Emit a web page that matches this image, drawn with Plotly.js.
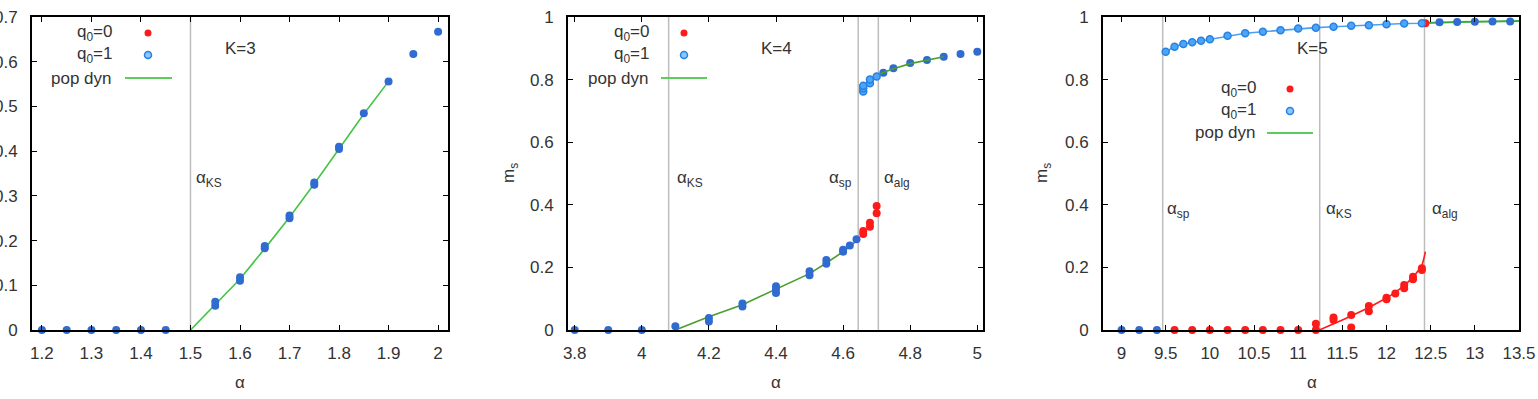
<!DOCTYPE html>
<html>
<head>
<meta charset="utf-8">
<script src="https://cdn.plot.ly/plotly-3.0.1.min.js"></script>
<style>
  html, body { margin: 0; padding: 0; background: #fff; }
  #chart { width: 1538px; height: 399px; }
</style>
</head>
<body>
<div id="chart"></div>
<script>
// ---------- K=3 ----------
const k3_both_alpha = [1.2, 1.25, 1.3, 1.35, 1.4, 1.45, 1.55, 1.55, 1.6, 1.6, 1.65, 1.65, 1.7, 1.7, 1.75, 1.75, 1.8, 1.8, 1.85, 1.9, 1.95, 2.0];
const k3_both_m     = [0, 0, 0, 0, 0, 0, 0.054, 0.063, 0.110, 0.118, 0.183, 0.188, 0.250, 0.256, 0.325, 0.330, 0.405, 0.410, 0.485, 0.556, 0.617, 0.667];
const k3_pop_alpha  = [1.5, 1.55, 1.6, 1.65, 1.7, 1.75, 1.8, 1.85, 1.9];
const k3_pop_m      = [0, 0.058, 0.114, 0.182, 0.252, 0.327, 0.405, 0.483, 0.556];
const k3_marks      = [1.5];

// ---------- K=4 ----------
const k4_both_alpha = [3.8, 3.9, 4.0, 4.1, 4.2, 4.2, 4.3, 4.3, 4.4, 4.4, 4.4, 4.5, 4.5, 4.55, 4.55, 4.6, 4.6, 4.62, 4.64,
                       4.72, 4.75, 4.8, 4.85, 4.9, 4.95, 5.0];
const k4_both_m     = [0, 0, 0, 0.012, 0.027, 0.038, 0.075, 0.085, 0.118, 0.130, 0.140, 0.175, 0.188, 0.212, 0.224, 0.250, 0.256, 0.270, 0.290,
                       0.822, 0.836, 0.853, 0.863, 0.873, 0.882, 0.889];
const k4_q0_alpha   = [4.66, 4.66, 4.68, 4.68, 4.70, 4.70];
const k4_q0_m       = [0.307, 0.316, 0.330, 0.343, 0.373, 0.396];
const k4_q1_alpha   = [4.66, 4.66, 4.66, 4.68, 4.68, 4.70];
const k4_q1_m       = [0.762, 0.772, 0.780, 0.788, 0.800, 0.810];
const k4_pop_lo_alpha = [4.1, 4.2, 4.3, 4.4, 4.5, 4.55, 4.6, 4.64];
const k4_pop_lo_m     = [0, 0.042, 0.081, 0.130, 0.180, 0.214, 0.250, 0.285];
const k4_pop_hi_alpha = [4.708, 4.75, 4.8, 4.85, 4.9];
const k4_pop_hi_m     = [0.818, 0.835, 0.851, 0.862, 0.873];
const k4_marks      = [4.08, 4.645, 4.705];

// ---------- K=5 ----------
const k5_both_alpha = [9.0, 9.2, 9.4, 12.6, 12.8, 13.0, 13.2, 13.4];
const k5_both_m     = [0, 0, 0, 0.983, 0.984, 0.985, 0.986, 0.986];
const k5_q0_alpha   = [9.6, 9.8, 10.0, 10.2, 10.4, 10.6, 10.8, 11.0, 11.2, 11.2, 11.4, 11.4, 11.6, 11.6, 11.8, 11.8,
                       12.0, 12.0, 12.1, 12.2, 12.2, 12.3, 12.3, 12.4, 12.4, 12.44];
const k5_q0_m       = [0, 0, 0, 0, 0, 0, 0, 0, 0, 0.020, 0.032, 0.040, 0.008, 0.048, 0.060, 0.077,
                       0.098, 0.103, 0.117, 0.133, 0.144, 0.162, 0.170, 0.192, 0.197, 0.980];
const k5_q1_alpha   = [9.5, 9.6, 9.7, 9.8, 9.9, 10.0, 10.2, 10.4, 10.6, 10.8, 11.0, 11.2, 11.4, 11.6, 11.8, 12.0, 12.2, 12.4];
const k5_q1_m       = [0.889, 0.905, 0.914, 0.919, 0.924, 0.929, 0.940, 0.948, 0.953, 0.958, 0.963, 0.966, 0.969, 0.972, 0.974, 0.977, 0.979, 0.980];
const k5_pop_hi_alpha = [12.44, 12.6, 12.8, 13.0, 13.2, 13.5];
const k5_pop_hi_m     = [0.981, 0.983, 0.984, 0.985, 0.986, 0.987];
const k5_pop_lo_alpha = [11.24, 11.3, 11.4, 11.5, 11.6, 11.7, 11.8, 11.9, 12.0, 12.1, 12.2, 12.3, 12.4, 12.42, 12.44];
const k5_pop_lo_m     = [0, 0.008, 0.020, 0.032, 0.045, 0.058, 0.072, 0.087, 0.102, 0.120, 0.142, 0.168, 0.205, 0.225, 0.250];
const k5_marks      = [9.466, 11.244, 12.43];

// ---------- styling ----------
const W = 1538, H = 399;
const fx = p => p / W;          // pixel -> paper (x)
const fy = p => 1 - p / H;      // pixel -> paper (y)
const FONT = 'Liberation Sans, Arial, sans-serif';
const FS = 17;
const TXT = '#333333';
const RED = '#ff1a1a';
const DARK = '#2f6bd0';
const LIGHT = '#4ea5f5', LIGHT_EDGE = '#2582e6';
const GREEN = '#44c444', GREEN2 = '#4a9e2c';

const panels = [
  { x0: 32,   x1: 448,  xr: [1.18, 2.02],   yr: [0, 0.7], dt: 0.1, xdt: 0.1 },
  { x0: 568,  x1: 983,  xr: [3.78, 5.017],  yr: [0, 1],   dt: 0.2, xdt: 0.2 },
  { x0: 1103, x1: 1519, xr: [8.79, 13.5],   yr: [0, 1],   dt: 0.2, xdt: 0.5 },
];
const PT = 17, PB = 330;

const layout = {
  width: W, height: H,
  margin: { l: 0, r: 0, t: 0, b: 0 },
  paper_bgcolor: '#ffffff', plot_bgcolor: '#ffffff',
  showlegend: false,
  font: { family: FONT, size: FS, color: TXT },
  shapes: [], annotations: [],
};

panels.forEach((p, i) => {
  const s = i === 0 ? '' : String(i + 1);
  const common = {
    showgrid: false, zeroline: false,
    showline: true, linecolor: '#000', linewidth: 2, mirror: 'ticks',
    ticks: 'inside', ticklen: 5, tickwidth: 1, tickcolor: '#000',
    tickfont: { family: FONT, size: FS, color: TXT },
    fixedrange: true,
  };
  layout['xaxis' + s] = Object.assign({}, common, {
    domain: [fx(p.x0), fx(p.x1)], range: p.xr, anchor: 'y' + s,
    dtick: p.xdt, tick0: 0, ticklabelstandoff: 7,
  });
  layout['yaxis' + s] = Object.assign({}, common, {
    domain: [fy(PB), fy(PT)], range: p.yr, anchor: 'x' + s,
    dtick: p.dt, tick0: 0, ticklabelstandoff: 9,
  });
});

const traces = [];
function pts(i, x, y, color, edge, size) {
  const s = i === 0 ? '' : String(i + 1);
  traces.push({
    type: 'scatter', mode: 'markers', x, y, xaxis: 'x' + s, yaxis: 'y' + s,
    cliponaxis: false, hoverinfo: 'skip',
    marker: { color, size: size || 8, line: { color: edge || color, width: edge ? 1.5 : 0 } },
  });
}
function line(i, x, y, color, width) {
  const s = i === 0 ? '' : String(i + 1);
  traces.push({
    type: 'scatter', mode: 'lines', x, y, xaxis: 'x' + s, yaxis: 'y' + s,
    hoverinfo: 'skip', line: { color, width: width || 1.6 },
  });
}
function vlines(i, xs) {
  const s = i === 0 ? '' : String(i + 1);
  xs.forEach(v => layout.shapes.push({
    type: 'line', xref: 'x' + s, yref: 'y' + s + ' domain', x0: v, x1: v, y0: 0, y1: 1,
    line: { color: '#bdbdbd', width: 1.5 }, layer: 'below',
  }));
}

// K=3
vlines(0, k3_marks);
line(0, k3_pop_alpha, k3_pop_m, GREEN);
pts(0, k3_both_alpha, k3_both_m, DARK);

// K=4
vlines(1, k4_marks);
line(1, k4_pop_lo_alpha, k4_pop_lo_m, GREEN2);
pts(1, k4_both_alpha, k4_both_m, DARK);
pts(1, k4_q0_alpha, k4_q0_m, RED);
pts(1, k4_q1_alpha, k4_q1_m, LIGHT, LIGHT_EDGE, 7);
line(1, k4_pop_hi_alpha, k4_pop_hi_m, GREEN2);

// K=5
vlines(2, k5_marks);
line(2, k5_pop_lo_alpha, k5_pop_lo_m, RED);
line(2, k5_q1_alpha.concat([12.44]), k5_q1_m.concat([0.981]), '#4aa0f2', 1.6);
line(2, k5_pop_hi_alpha, k5_pop_hi_m, '#3aaa3a', 2);
pts(2, k5_q0_alpha, k5_q0_m, RED);
pts(2, k5_q1_alpha, k5_q1_m, LIGHT, LIGHT_EDGE, 7);
pts(2, k5_both_alpha, k5_both_m, DARK);

// ---------- text, legends ----------
function txt(x, y, text, anchor, size, angle) {
  layout.annotations.push({
    xref: 'paper', yref: 'paper', x: fx(x), y: fy(y), text,
    xanchor: anchor || 'left', yanchor: 'middle', showarrow: false,
    textangle: angle || 0,
    font: { family: FONT, size: size || FS, color: TXT },
  });
}
function dot(x, y, fill, edge) {
  layout.shapes.push({
    type: 'circle', xref: 'paper', yref: 'paper', xsizemode: 'pixel', ysizemode: 'pixel',
    xanchor: fx(x), yanchor: fy(y), x0: -3.5, x1: 3.5, y0: -3.5, y1: 3.5,
    fillcolor: fill, line: { color: edge || fill, width: edge ? 1.5 : 0 },
  });
}
function legend(textRight, markX, lineX0, lineX1, ys) {
  txt(textRight, ys[0], 'q<sub>0</sub>=0', 'right');
  txt(textRight, ys[1], 'q<sub>0</sub>=1', 'right');
  txt(textRight, ys[2], 'pop dyn', 'right');
  dot(markX, ys[0], RED);
  dot(markX, ys[1], '#8cc6fa', LIGHT_EDGE);
  layout.shapes.push({
    type: 'line', xref: 'paper', yref: 'paper', x0: fx(lineX0), x1: fx(lineX1),
    y0: fy(ys[2]), y1: fy(ys[2]), line: { color: '#5ccc5c', width: 2 },
  });
}
legend(114, 148, 125, 172, [33, 55, 78]);
legend(651, 684, 661, 707, [33, 55, 78]);
legend(1258, 1290, 1267, 1313, [89, 111, 133]);

txt(240, 48, 'K=3', 'center');
txt(776, 48, 'K=4', 'center');
txt(1312, 48, 'K=5', 'center');

txt(194, 179, 'α<sub>KS</sub>');
txt(675, 179, 'α<sub>KS</sub>');
txt(827, 179, 'α<sub>sp</sub>');
txt(882, 179, 'α<sub>alg</sub>');
txt(1165, 210, 'α<sub>sp</sub>');
txt(1324, 210, 'α<sub>KS</sub>');
txt(1430, 210, 'α<sub>alg</sub>');

txt(240, 382, 'α', 'center');
txt(776, 382, 'α', 'center');
txt(1312, 382, 'α', 'center');
txt(510, 173, 'm<sub>s</sub>', 'center', FS, -90);
txt(1043, 173, 'm<sub>s</sub>', 'center', FS, -90);

Plotly.newPlot('chart', traces, layout, { displayModeBar: false, staticPlot: true });
</script>
</body>
</html>
